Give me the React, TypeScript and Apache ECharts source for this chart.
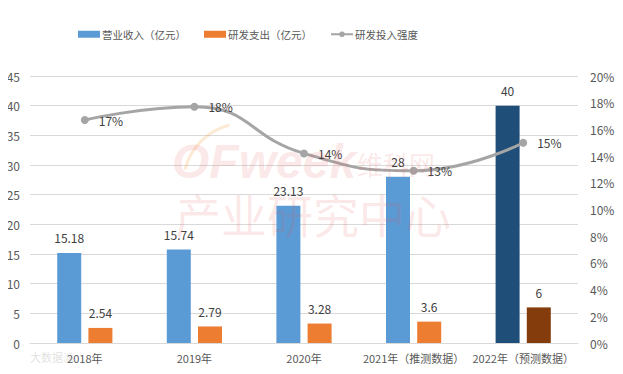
import React, { useEffect, useRef } from "react";
import * as echarts from "echarts";

const categories = ["2018年", "2019年", "2020年", "2021年（推测数据）", "2022年（预测数据）"];
const revenue = [15.18, 15.74, 23.13, 28, 40];
const rdSpend = [2.54, 2.79, 3.28, 3.6, 6];
const rdIntensity = [16.7, 17.7, 14.2, 12.9, 15.0];
const intensityLabels = ["17%", "18%", "14%", "13%", "15%"];

const FONT = "'Noto Sans CJK SC', 'Microsoft YaHei', sans-serif";

export default function App() {
  const ref = useRef<HTMLDivElement>(null);
  useEffect(() => {
    const chart = echarts.init(ref.current!, null, { renderer: "svg" });
    const n = categories.length;
    const wm = "rgba(230,80,80,0.15)";
    chart.setOption({
      animation: false,
      textStyle: { fontFamily: FONT },
      legend: {
        top: 24,
        left: 73,
        itemWidth: 22,
        itemHeight: 7,
        itemGap: 18,
        textStyle: {
          color: "#595959",
          fontSize: 10.5,
          fontFamily: FONT,
          padding: [0, 0, 0, -3],
        },
        data: [
          { name: "营业收入（亿元）", icon: "rect" },
          { name: "研发支出（亿元）", icon: "rect" },
          { name: "研发投入强度" },
        ],
      },
      grid: { left: 30, right: 45, top: 76, bottom: 31 },
      xAxis: {
        type: "category",
        data: categories,
        axisLine: { lineStyle: { color: "#d9d9d9" } },
        axisTick: { show: false },
        axisLabel: {
          color: "#595959",
          fontSize: 11,
          margin: 9,
          interval: 0,
        },
      },
      yAxis: [
        {
          type: "value",
          min: 0,
          max: 45,
          interval: 5,
          axisLine: { show: false },
          axisTick: { show: false },
          splitLine: { lineStyle: { color: "#d9d9d9" } },
          axisLabel: { color: "#595959", fontSize: 12, margin: 10 },
        },
        {
          type: "value",
          min: 0,
          max: 20,
          interval: 2,
          axisLine: { show: false },
          axisTick: { show: false },
          splitLine: { show: false },
          axisLabel: { color: "#595959", fontSize: 12, margin: 12, formatter: "{value}%" },
        },
      ],
      graphic: [
        {
          type: "arc",
          z: 100,
          silent: true,
          shape: { cx: 245, cy: 185, r: 62, startAngle: Math.PI * 1.08, endAngle: Math.PI * 1.42 },
          style: { stroke: "rgba(240,160,60,0.22)", lineWidth: 3, fill: "none" },
        },
        {
          type: "text",
          left: 172,
          top: 137,
          z: 100,
          silent: true,
          style: {
            text: "OFweek",
            fontSize: 48,
            fontWeight: "bold",
            fontStyle: "italic",
            fontFamily: "'Liberation Sans', sans-serif",
            fill: wm,
          },
        },
        {
          type: "text",
          left: 357,
          top: 150,
          z: 100,
          silent: true,
          style: { text: "维科网", fontSize: 26, fontFamily: FONT, fill: wm },
        },
        {
          type: "text",
          left: 175,
          top: 190,
          z: 100,
          silent: true,
          style: { text: "产业研究中心", fontSize: 46, fontFamily: FONT, fill: wm },
        },
        {
          type: "text",
          left: 30,
          top: 351,
          z: 100,
          silent: true,
          style: {
            text: "大数据派",
            fontSize: 11,
            fontFamily: FONT,
            fill: "rgba(150,150,150,0.3)",
          },
        },
      ],
      series: [
        {
          name: "营业收入（亿元）",
          type: "bar",
          barWidth: 24,
          barGap: "30%",
          itemStyle: { color: "#5B9BD5" },
          label: { show: true, position: "top", color: "#404040", fontSize: 12, distance: 9 },
          data: revenue.map((v, i) =>
            i === n - 1 ? { value: v, itemStyle: { color: "#1F4E79" } } : v
          ),
        },
        {
          name: "研发支出（亿元）",
          type: "bar",
          barWidth: 24,
          itemStyle: { color: "#ED7D31" },
          label: { show: true, position: "top", color: "#404040", fontSize: 12, distance: 9 },
          data: rdSpend.map((v, i) =>
            i === n - 1 ? { value: v, itemStyle: { color: "#843C0C" } } : v
          ),
        },
        {
          name: "研发投入强度",
          type: "line",
          yAxisIndex: 1,
          smooth: 0.5,
          symbol: "circle",
          symbolSize: 8,
          z: 5,
          lineStyle: { color: "#A5A5A5", width: 3 },
          itemStyle: { color: "#A5A5A5" },
          label: {
            show: true,
            position: "right",
            color: "#404040",
            fontSize: 12,
            distance: 10,
            formatter: (p: any) => intensityLabels[p.dataIndex],
          },
          data: rdIntensity,
        },
      ],
    });
    return () => chart.dispose();
  }, []);
  return <div ref={ref} style={{ width: 623, height: 374, margin: -8 }} />;
}
